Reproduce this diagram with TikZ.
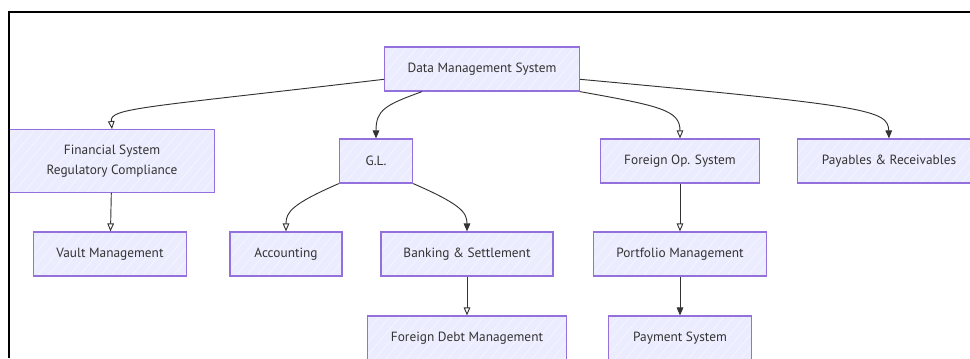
\documentclass[tikz,border=0pt]{standalone}
\usepackage{fontspec}
\setmainfont{PT Sans}
\usetikzlibrary{arrows.meta,calc,patterns.meta}

\definecolor{boxfill}{HTML}{ECECFF}
\definecolor{boxline}{HTML}{9370DB}
\definecolor{ink}{HTML}{333333}

\tikzset{
  box/.style={preaction={fill=boxfill}, pattern={Lines[angle=50,distance=6pt,line width=0.5pt]},
    pattern color=white!55!boxfill, draw=boxline, line width=0.9pt, text=ink,
    minimum height=33pt, inner sep=0pt, align=center,
    font=\fontsize{10}{14.5}\selectfont},
  link/.style={draw=ink, line width=0.7pt, -{Triangle[length=6pt,width=5pt]}},
  linko/.style={draw=ink, line width=0.7pt, -{Triangle[open,length=6pt,width=5pt]}},
}

\begin{document}
\begin{tikzpicture}[x=0.75pt, y=-0.75pt]
  \useasboundingbox (0,0) rectangle (970,358);

  % top level
  \node[box, minimum width=146pt] (dms) at (482,69) {Data Management System};

  % second row
  \node[box, minimum width=154pt, minimum height=47pt] (fin) at (112,161)
    {Financial System\\Regulatory Compliance};
  \node[box, minimum width=55pt] (gl) at (376,161) {G.L.};
  \node[box, minimum width=119pt] (fos) at (680,161) {Foreign Op. System};
  \node[box, minimum width=137pt] (pay) at (889,161) {Payables \& Receivables};

  % third row
  \node[box, minimum width=115pt] (vault) at (110,254) {Vault Management};
  \node[box, minimum width=84pt] (acc) at (286,254) {Accounting};
  \node[box, minimum width=129pt] (bank) at (467,254) {Banking \& Settlement};
  \node[box, minimum width=130pt] (port) at (680,254) {Portfolio Management};

  % fourth row
  \node[box, minimum width=149pt] (fdm) at (467,338) {Foreign Debt Management};
  \node[box, minimum width=107pt] (paym) at (680,338) {Payment System};

  % links out of the top box
  \draw[linko] (dms.186) .. controls (140,108) and (110,108) .. (fin.north);
  \draw[link] ($(dms.south west)+(38,0)$) .. controls (385,105) and (376,110) .. (gl.north);
  \draw[linko] (dms.south east) .. controls (660,106) and (680,110) .. (fos.north);
  \draw[link] (dms.-6) .. controls (870,106) and (888,110) .. (pay.north);

  % links below G.L.
  \draw[linko] (gl.south west) .. controls (292,204) and (286,212) .. (acc.north);
  \draw[link] (gl.south east) .. controls (460,204) and (467,212) .. (bank.north);

  % straight links
  \draw[linko] (fin) -- (vault);
  \draw[linko] (bank) -- (fdm);
  \draw[linko] (fos) -- (port);
  \draw[link] (port) -- (paym);

  % frame
  \draw[line width=1.5pt] (970,12) -- (9,12) -- (9,358);
\end{tikzpicture}
\end{document}
